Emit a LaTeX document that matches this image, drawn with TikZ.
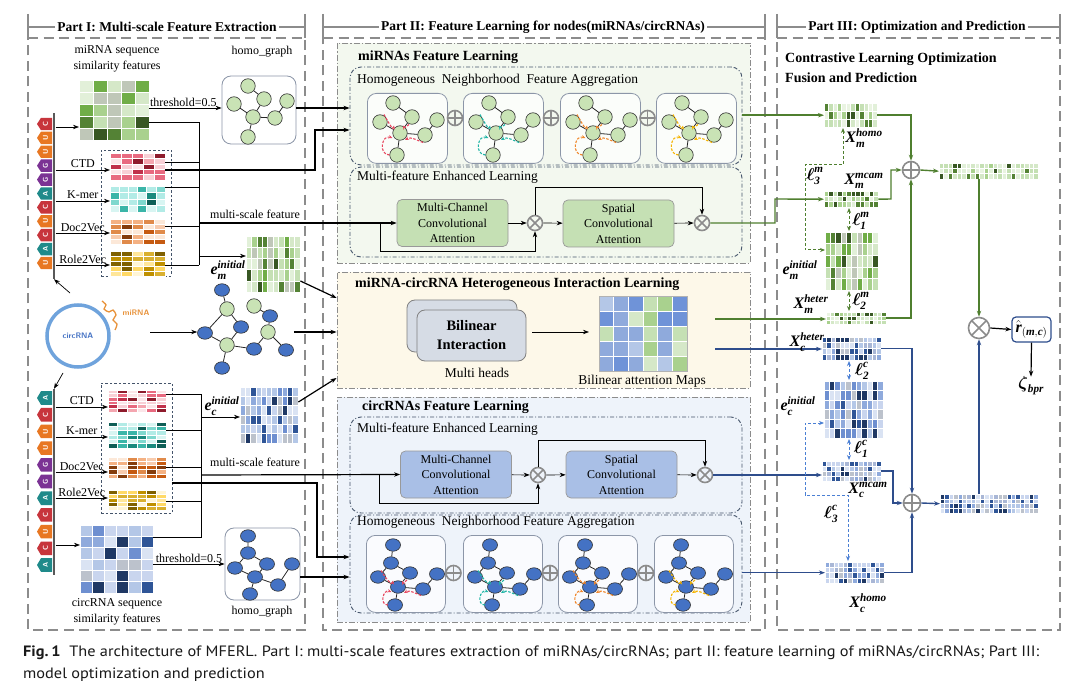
\documentclass[tikz,border=0pt]{standalone}
\usepackage{amsmath}
\usepackage{fontspec}
\setmainfont{Liberation Serif}
\newfontfamily\capfont{PT Sans}
\usetikzlibrary{arrows.meta,shapes.geometric}

\definecolor{lg}{HTML}{C9E3B5}
\definecolor{nb}{HTML}{4472C4}
\definecolor{dg}{HTML}{4F7F2F}
\definecolor{db}{HTML}{2E4D8C}
\definecolor{lb}{HTML}{4A7FD4}
\definecolor{bgG}{HTML}{F3F8EF}
\definecolor{bgY}{HTML}{FDF8E9}
\definecolor{bgB}{HTML}{EEF3FA}
\definecolor{dd}{HTML}{44546A}
\definecolor{mcaG}{HTML}{C5E0B4}
\definecolor{mcaB}{HTML}{A9BFE6}
\definecolor{bil}{HTML}{D6DCE5}
\definecolor{gbd}{HTML}{8C96A8}
\definecolor{ar1}{HTML}{E8475F}
\definecolor{ar2}{HTML}{1FB5A6}
\definecolor{ar3}{HTML}{F0862A}
\definecolor{ar4}{HTML}{F5B400}
\definecolor{tR}{HTML}{C7353C}
\definecolor{tO}{HTML}{E87722}
\definecolor{tP}{HTML}{7B3294}
\definecolor{tT}{HTML}{1F8A8A}
\definecolor{cB}{HTML}{6FA3DC}
\definecolor{miO}{HTML}{E8923A}
% palettes
\definecolor{g1}{HTML}{E2F0D9}\definecolor{g2}{HTML}{D5E8C8}\definecolor{g3}{HTML}{C5E0B4}\definecolor{g4}{HTML}{A9D18E}
\definecolor{g5}{HTML}{70AD47}\definecolor{g6}{HTML}{548235}\definecolor{g7}{HTML}{385723}\definecolor{g8}{HTML}{BFC7B8}
\definecolor{gx1}{HTML}{EAF4E2}\definecolor{gx2}{HTML}{E2F0D9}\definecolor{gx3}{HTML}{D5E8C8}\definecolor{gx4}{HTML}{C5E0B4}
\definecolor{gx5}{HTML}{C5E0B4}\definecolor{gx6}{HTML}{A9D18E}\definecolor{gx7}{HTML}{548235}\definecolor{gx8}{HTML}{385723}
\definecolor{b1}{HTML}{DAE3F3}\definecolor{b2}{HTML}{C9D5EE}\definecolor{b3}{HTML}{B4C7E7}\definecolor{b4}{HTML}{8FAADC}
\definecolor{b5}{HTML}{6E8FD0}\definecolor{b6}{HTML}{2F5597}\definecolor{b7}{HTML}{1F3864}\definecolor{b8}{HTML}{BCC2CC}
\definecolor{bx1}{HTML}{DAE3F3}\definecolor{bx2}{HTML}{C9D5EE}\definecolor{bx3}{HTML}{B4C7E7}\definecolor{bx4}{HTML}{BCC2CC}
\definecolor{bx5}{HTML}{A9B7D6}\definecolor{bx6}{HTML}{8FAADC}\definecolor{bx7}{HTML}{2F5597}\definecolor{bx8}{HTML}{1F3864}
\definecolor{r1}{HTML}{FBE5E8}\definecolor{r2}{HTML}{F8D0D6}\definecolor{r3}{HTML}{F4A6B0}\definecolor{r4}{HTML}{E86A80}
\definecolor{r5}{HTML}{C0304A}\definecolor{r6}{HTML}{8E1B2C}
\definecolor{t1}{HTML}{D8F5F2}\definecolor{t2}{HTML}{B2EBE6}\definecolor{t3}{HTML}{7FD8CE}\definecolor{t4}{HTML}{3BB5A8}
\definecolor{t5}{HTML}{1A8A7E}\definecolor{t6}{HTML}{0E5E56}
\definecolor{o1}{HTML}{FCE8D8}\definecolor{o2}{HTML}{F8CBAD}\definecolor{o3}{HTML}{F4B183}\definecolor{o4}{HTML}{E08A4A}
\definecolor{o5}{HTML}{C55A11}\definecolor{o6}{HTML}{843C0C}
\definecolor{y1}{HTML}{FFF5D6}\definecolor{y2}{HTML}{FFE699}\definecolor{y3}{HTML}{FFD966}\definecolor{y4}{HTML}{D9B030}
\definecolor{y5}{HTML}{BF9000}\definecolor{y6}{HTML}{7F6000}
\definecolor{mp1}{HTML}{8FAADC}\definecolor{mp2}{HTML}{B4C7E7}\definecolor{mp3}{HTML}{A9D18E}\definecolor{mp4}{HTML}{C5E0B4}
\definecolor{mp5}{HTML}{6F93D8}\definecolor{mp6}{HTML}{D5E8C8}

\newcommand\bi[1]{\text{\bfseries\itshape #1}}
\newcommand\fsz[1]{\fontsize{#1}{#1}\selectfont}

% name, x, y, w, h, cols, rows, palette, npal
\newcommand\mtx[9]{%
  \pgfmathsetmacro\mcw{#4/#6}\pgfmathsetmacro\mch{#5/#7}%
  \foreach \ci in {1,...,#6}{\foreach \cj in {1,...,#7}{%
    \pgfmathrandominteger{\rk}{1}{#9}%
    \path[fill={#8\rk}, draw=white, line width=0.5pt] ({#2+(\ci-1)*\mcw},{#3+(\cj-1)*\mch}) rectangle ++(\mcw,\mch);
  }}%
  \node[inner sep=0pt, minimum width=#4pt, minimum height=#5pt, anchor=north west] (#1) at (#2,#3) {};%
}

% x, y, arrow colour, name
\newcommand\mgraph[4]{%
 \begin{scope}[shift={(#1,#2)}]
  \node[gbox, fill=white!70!bgG, minimum width=80pt, minimum height=70pt, anchor=north west] (#4) at (0,0) {};
  \node[gn] (#4a) at (26,10) {};
  \node[gn] (#4b) at (45,24) {};
  \node[gn] (#4c) at (13,29) {};
  \node[gn] (#4d) at (33,40) {};
  \node[gn] (#4e) at (70,27) {};
  \node[gn] (#4f) at (58,42) {};
  \node[gn] (#4g) at (30,62) {};
  \draw[gedge] (#4a)--(#4b) (#4b)--(#4d) (#4c)--(#4d) (#4d)--(#4f) (#4f)--(#4e) (#4d)--(#4g);
  \draw[dar,#3] (17,21.5) to[out=-60,in=-100] (27,32.5);
  \draw[dar,#3] (42,31.5) to[out=-120,in=-60] (36,32.5);
  \draw[dar,#3] (22.5,62) to[out=180,in=160,looseness=1.7] (25.5,45);
  \draw[dar,#3] (56,49.5) to[out=160,in=30] (38,47);
 \end{scope}}

\newcommand\cgraph[4]{%
 \begin{scope}[shift={(#1,#2)}]
  \node[gbox, fill=white!70!bgB, minimum width=79pt, minimum height=77pt, anchor=north west] (#4) at (0,0) {};
  \node[cn] (#4a) at (27,10) {};
  \node[cn] (#4b) at (25,28) {};
  \node[cn] (#4c) at (12,42) {};
  \node[cn] (#4d) at (44,38) {};
  \node[cn] (#4e) at (32,52) {};
  \node[cn] (#4f) at (71,39) {};
  \node[cn] (#4g) at (57,54) {};
  \node[cn] (#4h) at (29,70) {};
  \draw[gedge] (#4a)--(#4b) (#4b)--(#4c) (#4b)--(#4d) (#4c)--(#4e) (#4d)--(#4e) (#4e)--(#4g) (#4g)--(#4f) (#4e)--(#4h);
  \draw[dar,#3] (15,35.5) to[out=-60,in=-100] (27,45.5);
  \draw[dar,#3] (41,45) to[out=-120,in=-60] (36,46);
  \draw[dar,#3] (22,70) to[out=180,in=160,looseness=1.7] (25.5,57);
  \draw[dar,#3] (55,60.5) to[out=160,in=30] (38,58);
 \end{scope}}

\begin{document}
\begin{tikzpicture}[x=1pt,y=-1pt,>={Stealth[length=6pt,width=4.4pt]},
 frm/.style={draw=black!45, line width=1.5pt, dash pattern=on 10pt off 5.5pt},
 frs/.style={draw=black!45, line width=1.3pt},
 ttl/.style={font=\bfseries\fsz{13.5}, fill=white, inner sep=2.5pt},
 lbl/.style={font=\fsz{12}, inner sep=1pt},
 btl/.style={font=\bfseries\fsz{14}, inner sep=0pt, anchor=west},
 ilb/.style={font=\fsz{13.5}, inner sep=0pt, anchor=west},
 ln/.style={draw=black, line width=0.7pt},
 arr/.style={ln, ->},
 thk/.style={draw=black, line width=1.2pt},
 gl/.style={draw=dg, line width=1.4pt},
 bl/.style={draw=db, line width=1.4pt},
 gd/.style={draw=dg, line width=1pt, dash pattern=on 3pt off 2pt, >={Stealth[length=5pt,width=4pt]}},
 bd/.style={draw=lb, line width=1pt, dash pattern=on 3pt off 2pt, >={Stealth[length=5pt,width=4pt]}},
 pbox/.style={draw=black!45, line width=0.9pt, dash pattern=on 6pt off 2pt on 1.5pt off 2pt, inner sep=0},
 ibox/.style={draw=dd, line width=0.9pt, dash pattern=on 4pt off 2pt on 1pt off 2pt, rounded corners=11pt, inner sep=0},
 gbox/.style={draw=gbd, line width=0.8pt, rounded corners=9pt, fill=white, inner sep=0},
 gn/.style={circle, draw=black!80, line width=0.6pt, fill=lg, minimum size=14.5pt, inner sep=0},
 cn/.style={ellipse, draw=black!80, line width=0.6pt, fill=nb, minimum width=15pt, minimum height=12.5pt, inner sep=0},
 gedge/.style={draw=black!85, line width=0.8pt},
 dar/.style={line width=1.1pt, dash pattern=on 2.5pt off 1.5pt, ->, >={Stealth[length=4pt,width=3.5pt]}},
 mca/.style={rounded corners=5pt, draw=black!40, line width=0.7pt, minimum width=111pt, minimum height=47pt, align=center, inner sep=0, font=\fontsize{12}{15.5}\selectfont},
 opl/.style={circle, draw=black!45, line width=1.6pt, minimum size=#1, inner sep=0, path picture={\draw[black!45, line width=1.6pt] (path picture bounding box.north) -- (path picture bounding box.south) (path picture bounding box.west) -- (path picture bounding box.east);}},
 opl/.default=15pt,
 otm/.style={circle, draw=black!45, line width=1.6pt, minimum size=#1, inner sep=0, path picture={\draw[black!45, line width=1.6pt] (path picture bounding box.north west) -- (path picture bounding box.south east) (path picture bounding box.north east) -- (path picture bounding box.south west);}},
 otm/.default=15pt,
 mlab/.style={font=\fsz{16}, inner sep=0},
 tagt/.style={rotate=90, text=white, font=\sffamily\bfseries\fsz{7}, inner sep=0},
 strand/.style={fill=black!65, minimum width=2.6pt, inner sep=0},
]
\useasboundingbox (0,0) rectangle (1080,687);
\fill[white] (0,0) rectangle (1080,687);
\pgfmathsetseed{2024}

% ================= FRAMES =================
\draw[frm] (28,38) -- (305,38) -- (305,630) -- (28,630) -- cycle;
\draw[frs] (28,14) -- (28,38) (305,14) -- (305,38) (28,27) -- (305,27);
\node[ttl] (t1) at (167,27) {Part I: Multi-scale Feature Extraction};
\draw[frm] (323,38) -- (765,38) -- (765,630) -- (323,630) -- cycle;
\draw[frs] (323,14) -- (323,38) (765,14) -- (765,38) (323,27) -- (765,27);
\node[ttl] (t2) at (543,27) {Part II: Feature Learning for nodes(miRNAs/circRNAs)};
\draw[frm] (777,38) -- (1060,38) -- (1060,630) -- (777,630) -- cycle;
\draw[frs] (777,14) -- (777,38) (1060,14) -- (1060,38) (777,27) -- (1060,27);
\node[ttl] (t3) at (917,27) {Part III: Optimization and Prediction};

% ================= PART I : miRNA =================
\node[lbl, align=center, font=\fontsize{12}{16}\selectfont] (mSimT) at (117,59) {miRNA sequence\\similarity features};
\mtx{mSim}{79}{80}{70}{60}{5}{5}{g}{8}
\node[lbl] (mHgT) at (262,52) {homo\_graph};
\node[gbox, minimum width=74pt, minimum height=68pt] (mHg) at (259,110) {};
\node[gn] (h1) at (248,86) {};
\node[gn] (h2) at (264,99) {};
\node[gn] (h3) at (234,104) {};
\node[gn] (h4) at (253,117) {};
\node[gn] (h5) at (287,101) {};
\node[gn] (h6) at (275,118) {};
\node[gn] (h7) at (248,137) {};
\draw[gedge] (h1)--(h2) (h2)--(h4) (h3)--(h4) (h4)--(h6) (h6)--(h5) (h4)--(h7);

\node[strand, minimum height=166pt] (mStrand) at (54,196) {};
\foreach \lt/\cl [count=\n from 0] in {C/tR,U/tO,U/tO,G/tP,G/tP,A/tT,C/tR,U/tO,C/tR,A/tT,U/tO}{
  \pgfmathsetmacro\yy{124+\n*13.9}
  \fill[\cl] (52,\yy-6.2) -- (41,\yy-6.2) -- (37,\yy) -- (41,\yy+6.2) -- (52,\yy+6.2) -- cycle;
  \node[tagt] (mt\n) at (45.5,\yy) {\lt};
}

\node[draw=dd, line width=0.7pt, dash pattern=on 2.5pt off 2pt, minimum width=70pt, minimum height=126pt, inner sep=0] (mFeat) at (136,213) {};
\mtx{mCTD}{110}{153}{55}{27}{5}{5}{r}{6}
\mtx{mKmer}{110}{186}{55}{26}{6}{4}{t}{6}
\mtx{mDoc}{110}{219}{55}{25}{5}{5}{o}{6}
\mtx{mRole}{110}{251}{55}{25}{5}{5}{y}{6}

\draw[arr] (mStrand.east |- 0,127) -- (mSim.west |- 0,127);
\draw[arr] (mStrand.east |- 0,170) -- node[lbl, above=1pt] (lCTD) {CTD} (mCTD.west |- 0,170);
\draw[arr] (mStrand.east |- 0,201) -- node[lbl, above=1pt] (lKm) {K-mer} (mKmer.west |- 0,201);
\draw[arr] (mStrand.east |- 0,233) -- node[lbl, above=0pt] (lDoc) {Doc2Vec} (mDoc.west |- 0,233);
\draw[arr] (mStrand.east |- 0,265) -- node[lbl, above=0pt] (lRole) {Role2Vec} (mRole.west |- 0,265);

\draw[arr] (mSim.east |- 0,108) -- node[lbl, above=0pt, pos=0.47] (thr1) {threshold=0.5} (mHg.west |- 0,108);

% bus
\coordinate (mBusT) at (199,122);
\coordinate (mBusB) at (199,265);
\draw[ln] (mSim.east |- mBusT) -- (mBusT) -- (mBusB);
\draw[ln] (mCTD.east |- 0,162) -- (199,162);
\draw[ln] (mKmer.east |- 0,187) -- (199,187);
\draw[ln] (mDoc.east |- 0,226) -- (199,226);
\draw[ln] (mRole.east |- mBusB) -- (mBusB);
\mtx{emI}{246}{236}{54}{56}{10}{5}{g}{8}
\draw[arr] (199,256) -- (emI.west |- 0,256);
\node[mlab] (emIl) at (228,270) {$\bi{e}^{\bi{initial}}_{\bi{m}}$};
\node[lbl] (msf1) at (255,214) {multi-scale feature};

% heterogeneous graph
\node[circle, draw=cB, line width=3.5pt, minimum size=62pt, inner sep=0, text=nb, font=\sffamily\bfseries\fsz{8}] (circ) at (78,336) {circRNA};
\draw[miO, line width=1.3pt] plot[smooth] coordinates {(102,301) (106,305) (104,309) (109,312) (113,310) (116,315) (113,320) (117,324) (115,330)};
\node[text=miO, font=\sffamily\bfseries\fsz{8}, inner sep=0] (miT) at (136,313) {miRNA};
\node[cn] (q1) at (222,290) {};
\node[gn] (q2) at (227,309) {};
\node[cn] (q3) at (205,333) {};
\node[cn] (q4) at (241,327) {};
\node[gn] (q5) at (227,345) {};
\node[cn] (q6) at (222,368) {};
\node[cn] (q7) at (254,349) {};
\node[gn] (q8) at (254,306) {};
\node[cn] (q9) at (270,316) {};
\node[gn] (q10) at (268,332) {};
\node[cn] (q11) at (286,350) {};
\draw[gedge] (q1)--(q2) (q2)--(q3) (q2)--(q4) (q3)--(q5) (q4)--(q5) (q5)--(q6) (q5)--(q7) (q8)--(q9) (q9)--(q10) (q10)--(q7) (q10)--(q11);
\coordinate (cAo) at (150,332);
\draw[arr] (cAo) -- (q3.west |- cAo);
\coordinate (cUp) at (70,293);
\coordinate (cDn) at (63,373);
\draw[arr] (cUp) -- (mStrand.south);

% ================= PART I : circRNA =================
\node[strand, minimum height=186pt] (cStrand) at (54,482) {};
\draw[arr] (cDn) -- (cStrand.north);
\foreach \lt/\cl [count=\n from 0] in {A/tT,C/tR,U/tO,U/tO,G/tP,G/tP,A/tT,C/tR,U/tO,C/tR,A/tT}{
  \pgfmathsetmacro\yy{398+\n*16.7}
  \fill[\cl] (52,\yy-6.8) -- (41,\yy-6.8) -- (37,\yy) -- (41,\yy+6.8) -- (52,\yy+6.8) -- cycle;
  \node[tagt] (ct\n) at (45.5,\yy) {\lt};
}
\node[draw=dd, line width=0.7pt, dash pattern=on 2.5pt off 2pt, minimum width=71pt, minimum height=130pt, inner sep=0] (cFeat) at (136.5,448) {};
\mtx{cCTD}{108}{390}{58}{22}{6}{6}{r}{6}
\mtx{cKmer}{108}{422}{58}{26}{6}{6}{t}{6}
\mtx{cDoc}{108}{457}{58}{21}{6}{5}{o}{6}
\mtx{cRole}{108}{490}{58}{20}{6}{5}{y}{6}
\draw[arr] (cStrand.east |- 0,407) -- node[lbl, above=1pt] (lcCTD) {CTD} (cCTD.west |- 0,407);
\draw[arr] (cStrand.east |- 0,437) -- node[lbl, above=1pt] (lcKm) {K-mer} (cKmer.west |- 0,437);
\draw[arr] (cStrand.east |- 0,472) -- node[lbl, above=0pt] (lcDoc) {Doc2Vec} (cDoc.west |- 0,472);
\draw[arr] (cStrand.east |- 0,498) -- node[lbl, above=0pt] (lcRole) {Role2Vec} (cRole.west |- 0,498);
\mtx{cSim}{80}{525}{73}{68}{6}{6}{b}{8}
\draw[arr] (cStrand.east |- 0,545) -- (cSim.west |- 0,545);
\coordinate (cBusT) at (201,394);
\coordinate (cBusB) at (201,537);
\draw[ln] (cCTD.east |- cBusT) -- (cBusT) -- (cBusB) -- (cSim.east |- cBusB);
\draw[ln] (cKmer.east |- 0,430) -- (201,430);
\draw[ln] (cDoc.east |- 0,467) -- (201,467);
\draw[ln] (cRole.east |- 0,501) -- (201,501);
\mtx{ecI}{240}{387}{58}{56}{11}{6}{b}{8}
\draw[arr] (201,417) -- (ecI.west |- 0,417);
\node[mlab] (ecIl) at (222,406) {$\bi{e}^{\bi{initial}}_{\bi{c}}$};
\node[lbl] (msf2) at (255,462) {multi-scale feature};
\node[gbox, minimum width=75pt, minimum height=72pt] (cHg) at (262.5,564) {};
\node[cn] (k1) at (248,536) {};
\node[cn] (k2) at (248,553) {};
\node[cn] (k3) at (235,568) {};
\node[cn] (k4) at (267,564) {};
\node[cn] (k5) at (255,577) {};
\node[cn] (k6) at (292,564) {};
\node[cn] (k7) at (278,585) {};
\node[cn] (k8) at (250,594) {};
\draw[gedge] (k1)--(k2) (k2)--(k3) (k2)--(k4) (k3)--(k5) (k4)--(k5) (k5)--(k7) (k7)--(k6) (k5)--(k8);
\draw[arr] (cSim.east |- 0,564) -- node[lbl, above=0pt, pos=0.5] (thr2) {threshold=0.5} (cHg.west |- 0,564);
\node[lbl] (cHgT) at (262,612) {homo\_graph};
\node[lbl, align=center, font=\fontsize{12}{16}\selectfont] (cSimT) at (117,612) {circRNA sequence\\similarity features};

% ================= PART II =================
% miRNA feature learning
\node[pbox, fill=bgG, minimum width=413pt, minimum height=220pt] (mBox) at (543.5,153) {};
\node[btl] (mBoxT) at (358,57) {miRNAs Feature Learning};
\node[ibox, minimum width=392pt, minimum height=98pt] (mHomo) at (546,116) {};
\node[ilb] (mHomoT) at (357,80) {Homogeneous\ \ Neighborhood\ \ Feature Aggregation};
\mgraph{367}{93}{ar1}{mg1}
\mgraph{463}{93}{ar2}{mg2}
\mgraph{560}{93}{ar3}{mg3}
\mgraph{656}{93}{ar4}{mg4}
\node[opl] (mp1) at (455,118) {};
\node[opl] (mp2) at (551,118) {};
\node[opl] (mp3) at (647.5,118) {};
\node[ibox, minimum width=392pt, minimum height=90pt] (mMfel) at (546,212) {};
\node[ilb] (mMfelT) at (357,177) {Multi-feature Enhanced Learning};
\node[mca, fill=mcaG] (mMCA) at (452.5,223) {Multi-Channel\\Convolutional\\Attention};
\node[otm] (mX1) at (535,223) {};
\node[mca, fill=mcaG] (mSCA) at (618.5,223.5) {Spatial\\Convolutional\\Attention};
\node[otm] (mX2) at (702,223) {};
\draw[arr] (mMCA) -- (mX1);
\draw[arr] (mX1) -- (mSCA);
\draw[arr] (mSCA) -- (mX2);
\draw[arr] (mX1.north) -- (535,187) -- (702,187) -- (mX2.north);
\draw[arr] (380,223) -- (380,251) -- (535,251) -- (mX1.south);
% inputs from part I
\draw[thk,->] (mHg.east |- 0,108) -- (mHomo.west |- 0,108);
\draw[thk,->] (mCTD.east |- 0,170) -- (315,170) -- (315,130) -- (mHomo.west |- 0,130);
\draw[thk,->] (199,223) -- (mMCA.west);

% heterogeneous interaction
\node[pbox, fill=bgY, minimum width=413pt, minimum height=116pt] (het) at (543.5,330) {};
\node[btl] (hetT) at (355,284) {miRNA-circRNA Heterogeneous Interaction Learning};
\node[rounded corners=8pt, draw=black!50, line width=0.8pt, fill=bil, minimum width=110pt, minimum height=52pt] (bil2) at (462,326) {};
\node[rounded corners=8pt, draw=black!50, line width=0.8pt, fill=bil, minimum width=109pt, minimum height=51pt, align=center, font=\bfseries\fontsize{14.5}{19}\selectfont] (bil1) at (471.5,335.5) {Bilinear\\Interaction};
\node[ilb, anchor=center] (mhT) at (477,373) {Multi heads};
\mtx{bmap}{599}{296}{88}{75}{6}{5}{mp}{6}
\draw[draw=black!30, line width=0.5pt] (bmap.north west) rectangle (bmap.south east);
\node[ilb, anchor=center] (bmapT) at (642,381) {Bilinear attention Maps};
\draw[arr] ([xshift=6pt]bil1.east |- 0,332) -- ([xshift=-10pt]bmap.west |- 0,332);
\draw[thk,->] (emI.east |- 0,281) -- (het.west |- 0,298);
\draw[thk,->] (q11.east |- cAo) -- (het.west |- cAo);
\draw[thk,->] (ecI.east |- 0,402) -- (het.west |- 0,378);
\coordinate (hoG) at (715,319);
\coordinate (hoB) at (715,349);

% circRNA feature learning
\node[pbox, fill=bgB, minimum width=413pt, minimum height=225pt] (cBox) at (543.5,509.5) {};
\node[btl] (cBoxT) at (362,407) {circRNAs Feature Learning};
\node[ibox, minimum width=392pt, minimum height=96pt] (cMfel) at (546,465) {};
\node[ilb] (cMfelT) at (357,429) {Multi-feature Enhanced Learning};
\node[mca, fill=mcaB] (cMCA) at (456,474.5) {Multi-Channel\\Convolutional\\Attention};
\node[otm] (cX1) at (538,475) {};
\node[mca, fill=mcaB] (cSCA) at (621.5,474.5) {Spatial\\Convolutional\\Attention};
\node[otm] (cX2) at (705,475) {};
\draw[arr] (cMCA) -- (cX1);
\draw[arr] (cX1) -- (cSCA);
\draw[arr] (cSCA) -- (cX2);
\draw[arr] (cX1.north) -- (538,440) -- (705,440) -- (cX2.north);
\draw[arr] (379,475) -- (379,503) -- (538,503) -- (cX1.south);
\node[ibox, minimum width=392pt, minimum height=98pt] (cHomo) at (546,564) {};
\node[ilb] (cHomoT) at (357,522) {Homogeneous\ \ Neighborhood Feature Aggregation};
\cgraph{366}{535}{ar1}{cg1}
\cgraph{463}{535}{ar2}{cg2}
\cgraph{558}{535}{ar3}{cg3}
\cgraph{654}{535}{ar4}{cg4}
\node[opl] (cp1) at (453.5,573) {};
\node[opl] (cp2) at (550,573) {};
\node[opl] (cp3) at (646,573) {};
\draw[thk,->] (201,475) -- (cMCA.west);
\draw[thk,->] (cFeat.east |- 0,483) -- (317,483) -- (317,557) -- (cHomo.west |- 0,557);
\draw[thk,->] (cHg.east |- 0,577) -- (cHomo.west |- 0,577);

% ================= PART III =================
\node[btl, align=left, font=\bfseries\fontsize{14}{20}\selectfont] (p3T) at (785,68) {Contrastive Learning Optimization\\Fusion and Prediction};
\mtx{Xmh}{824}{103}{53}{24}{12}{3}{gx}{8}
\mtx{Xmm}{824}{191}{54}{16}{12}{3}{gx}{8}
\mtx{emIII}{825}{232}{53}{58}{10}{5}{g}{8}
\mtx{Xmt}{826}{312}{60}{12}{14}{3}{gx}{8}
\mtx{fusM}{939}{163}{99}{16}{22}{3}{gx}{8}
\mtx{Xct}{822}{337}{59}{23}{13}{4}{bx}{8}
\mtx{ecIII}{824}{381}{59}{57}{11}{6}{b}{8}
\mtx{Xcm}{822}{461}{59}{20}{13}{4}{bx}{8}
\mtx{Xch}{825}{562}{59}{21}{13}{4}{bx}{8}
\mtx{fusC}{940}{494}{98}{19}{22}{4}{bx}{8}
\node[opl=17pt] (oM) at (911,170) {};
\node[opl=17pt] (oC) at (912,503) {};
\node[otm=21pt] (otF) at (979,328) {};
\node[draw=db, rounded corners=4pt, line width=1.2pt, minimum width=39pt, minimum height=25pt, inner sep=0, font=\fsz{16}] (rh) at (1031.5,329.5) {$\hat{\bi{r}}_{(\bi{m},\bi{c})}$};
\node[mlab] (zeta) at (1031,386) {$\boldsymbol{\zeta}_{\bi{bpr}}$};

% inputs from part II
\draw[gl,->] (mHomo.east |- Xmh.west) -- (Xmh.west);
\draw[gl,->] (mX2.east) -- (775,223) -- (775,199) -- (Xmm.west);
\draw[gl,->] (hoG) -- (Xmt.west |- hoG);
\draw[bl,->] (hoB) -- (Xct.west |- hoB);
\draw[bl,->] (cX2.east) -- (Xcm.west |- cX2.east);
\draw[bl,->] (cHomo.east |- Xch.west) -- (Xch.west);

% fusion
\draw[gl,->] (Xmh.east) -- (oM.north |- Xmh.east) -- (oM.north);
\draw[gl,->] (Xmm.east) -- (891,199) -- (891,170) -- (oM.west);
\draw[gl,->] (Xmt.east) -- (oM.south |- Xmt.east) -- (oM.south);
\draw[gl,->] (oM.east) -- (fusM.west);
\draw[gl,->] (otF.north |- fusM.south) -- (otF.north);
\draw[bl,->] (Xct.east) -- (oC.north |- Xct.east) -- (oC.north);
\draw[bl,->] (Xcm.east |- 0,471) -- (893,471) -- (893,503) -- (oC.west);
\draw[bl,->] (Xch.east) -- (oC.south |- Xch.east) -- (oC.south);
\draw[bl,->] (oC.east) -- (fusC.west);
\draw[bl,->] (otF.south |- fusC.north) -- (otF.south);
\draw[thk,->] (otF.east) -- (rh.west);
\draw[thk,->] (rh.south) -- (zeta.north);

% contrastive losses
\draw[gd,<->] (843,128) -- (843,165) -- (805,165) -- (805,250) -- (emIII.west |- 0,250);
\draw[gd,<->] (849,208) -- (849,231);
\draw[gd,<->] (849,291) -- (849,311);
\draw[bd,<->] (849,361) -- (849,380);
\draw[bd,<->] (849,439) -- (849,460);
\draw[bd,<->] (ecIII.west |- 0,423) -- (805,423) -- (805,495) -- (848,495) -- (848,561);

\node[mlab] (lXmh) at (864,138) {$\bi{X}^{\bi{homo}}_{\bi{m}}$};
\node[mlab] (lXmm) at (864,181) {$\bi{X}^{\bi{mcam}}_{\bi{m}}$};
\node[mlab] (l3m) at (815,176) {$\boldsymbol{\ell}^{\bi{m}}_{\bi{3}}$};
\node[mlab] (l1m) at (861,221) {$\boldsymbol{\ell}^{\bi{m}}_{\bi{1}}$};
\node[mlab] (lem) at (800,270) {$\bi{e}^{\bi{initial}}_{\bi{m}}$};
\node[mlab] (lXmt) at (811,304) {$\bi{X}^{\bi{heter}}_{\bi{m}}$};
\node[mlab] (l2m) at (861,301) {$\boldsymbol{\ell}^{\bi{m}}_{\bi{2}}$};
\node[mlab] (lXct) at (807,342) {$\bi{X}^{\bi{heter}}_{\bi{c}}$};
\node[mlab] (l2c) at (862,371) {$\boldsymbol{\ell}^{\bi{c}}_{\bi{2}}$};
\node[mlab] (lec) at (798,406) {$\bi{e}^{\bi{initial}}_{\bi{c}}$};
\node[mlab] (l1c) at (861,449) {$\boldsymbol{\ell}^{\bi{c}}_{\bi{1}}$};
\node[mlab] (lXcm) at (868,490) {$\bi{X}^{\bi{mcam}}_{\bi{c}}$};
\node[mlab] (l3c) at (831,514) {$\boldsymbol{\ell}^{\bi{c}}_{\bi{3}}$};
\node[mlab] (lXch) at (868,603) {$\bi{X}^{\bi{homo}}_{\bi{c}}$};

% ================= CAPTION =================
\node[anchor=north west, inner sep=0, text=black!90] (cap) at (23,641) {\resizebox{1016pt}{\height}{\capfont\fontsize{15}{22}\selectfont\begin{tabular}{@{}l@{}}\textbf{Fig.\,1}\ \ The architecture of MFERL. Part I: multi-scale features extraction of miRNAs/circRNAs; part II: feature learning of miRNAs/circRNAs; Part III:\\model optimization and prediction\end{tabular}}};
\end{tikzpicture}
\end{document}
